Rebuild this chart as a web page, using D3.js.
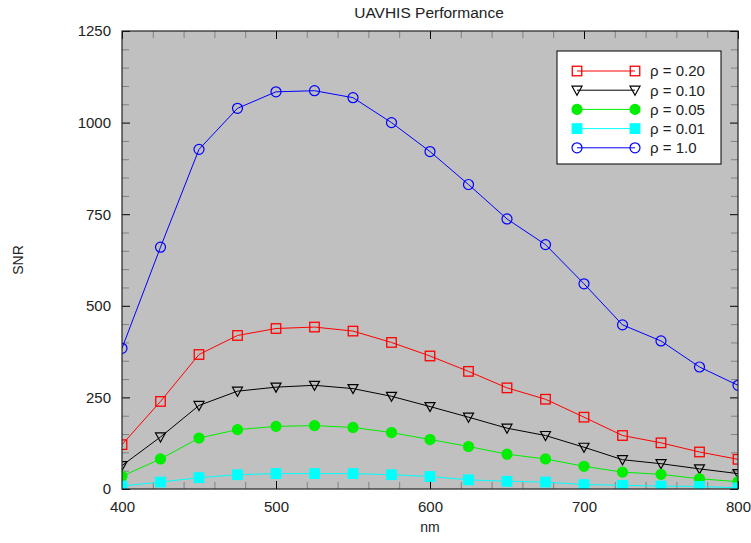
<!DOCTYPE html>
<html>
<head>
<meta charset="utf-8">
<script src="https://cdn.jsdelivr.net/npm/d3@7"></script>
<style>
  body { margin: 0; background: #fff; }
  text { font-family: "Liberation Sans", Arial, sans-serif; fill: #222; }
</style>
</head>
<body>
<div id="chart"></div>
<script>
// wavelengths (nm) and SNR readings per reflectance
const wavelengths = [400, 425, 450, 475, 500, 525, 550, 575, 600, 625, 650, 675, 700, 725, 750, 775, 800];
const snr020 = [121, 239, 367, 419, 438, 442, 431, 400, 363, 321, 276, 245, 196, 146, 126, 101, 81];
const snr010 = [64, 142, 228, 267, 278, 283, 274, 253, 225, 196, 166, 146, 114, 80, 69, 55, 42];
const snr005 = [35, 82, 139, 162, 171, 173, 168, 154, 135, 116, 95, 82, 62, 46, 40, 28, 20];
const snr001 = [8, 19, 31, 39, 42, 42, 42, 39, 34, 25, 21, 19, 12, 10, 8, 7, 3];
const snr100 = [384, 660, 927, 1039, 1084, 1087, 1068, 1000, 921, 831, 737, 667, 560, 448, 404, 333, 283];

const seriesNames = ["ρ = 0.20", "ρ = 0.10", "ρ = 0.05", "ρ = 0.01", "ρ = 1.0"];
const xTicks = [400, 500, 600, 700, 800];
const yTicks = [0, 250, 500, 750, 1000, 1250];

const series = [
  {name: seriesNames[0], values: snr020, line: "#ff0000", marker: "square", fill: "none"},
  {name: seriesNames[1], values: snr010, line: "#000000", marker: "triangle", fill: "none"},
  {name: seriesNames[2], values: snr005, line: "#00ee00", marker: "circle", fill: "#00ee00"},
  {name: seriesNames[3], values: snr001, line: "#00ffff", marker: "square", fill: "#00ffff"},
  {name: seriesNames[4], values: snr100, line: "#0000ff", marker: "circle", fill: "none"}
];

const W = 751, H = 543;
const margin = {top: 31, right: 13, bottom: 54, left: 122};
const width = W - margin.left - margin.right,
      height = H - margin.top - margin.bottom;

const svg = d3.select("#chart").append("svg")
  .attr("width", W).attr("height", H);

const g = svg.append("g").attr("transform", `translate(${margin.left},${margin.top})`);

const x = d3.scaleLinear().domain([400, 800]).range([0, width]);
const y = d3.scaleLinear().domain([0, 1250]).range([height, 0]);

g.append("rect").attr("width", width).attr("height", height).attr("fill", "#c0c0c0");

// minor ticks (inward, grey)
const minorX = d3.range(400, 801, 20).filter(v => v % 100 !== 0);
const minorY = d3.range(0, 1251, 50).filter(v => v % 250 !== 0);
function minor(axis) { return axis.tickSizeInner(-7).tickSizeOuter(0).tickFormat(""); }
g.append("g").attr("transform", `translate(0,${height})`).call(minor(d3.axisBottom(x).tickValues(minorX)));
g.append("g").call(minor(d3.axisTop(x).tickValues(minorX)));
g.append("g").call(minor(d3.axisLeft(y).tickValues(minorY)));
g.append("g").attr("transform", `translate(${width},0)`).call(minor(d3.axisRight(y).tickValues(minorY)));
g.selectAll(".tick line").attr("stroke", "#808080");
g.selectAll(".domain").remove();

// major ticks
const major = [];
major.push(g.append("g").attr("transform", `translate(0,${height})`)
  .call(d3.axisBottom(x).tickValues(xTicks).tickFormat(d3.format("d"))
    .tickSizeInner(-8).tickSizeOuter(0).tickPadding(12)));
major.push(g.append("g").call(d3.axisLeft(y).tickValues(yTicks).tickFormat(d3.format("d"))
    .tickSizeInner(-8).tickSizeOuter(0).tickPadding(11)));
major.push(g.append("g").call(d3.axisTop(x).tickValues(xTicks).tickSizeInner(-8).tickSizeOuter(0).tickFormat("")));
major.push(g.append("g").attr("transform", `translate(${width},0)`)
  .call(d3.axisRight(y).tickValues(yTicks).tickSizeInner(-8).tickSizeOuter(0).tickFormat("")));
major.forEach(a => {
  a.select(".domain").remove();
  a.selectAll(".tick line").attr("stroke", "#000");
  a.selectAll("text").attr("font-size", 15).attr("fill", "#222");
});

// clipped data area
svg.append("defs").append("clipPath").attr("id", "clip")
  .append("rect").attr("width", width).attr("height", height);
const plot = g.append("g").attr("clip-path", "url(#clip)");

const line = d3.line().x((d, i) => x(wavelengths[i])).y(d => y(d));

function drawMarker(sel, s) {
  if (s.marker === "square") {
    sel.append("rect").attr("x", -4.75).attr("y", -4.75).attr("width", 9.5).attr("height", 9.5)
      .attr("fill", s.fill).attr("stroke", s.line).attr("stroke-width", 1.3);
  } else if (s.marker === "circle") {
    sel.append("circle").attr("r", 5)
      .attr("fill", s.fill).attr("stroke", s.line).attr("stroke-width", 1.2);
  } else {
    sel.append("path").attr("d", "M-5,-4L5,-4L0,5Z")
      .attr("fill", "none").attr("stroke", s.line).attr("stroke-width", 1.2);
  }
}

series.forEach(s => {
  plot.append("path").datum(s.values).attr("d", line)
    .attr("fill", "none").attr("stroke", s.line).attr("stroke-width", 1);
  plot.append("g").selectAll("g").data(s.values).enter().append("g")
    .attr("transform", (d, i) => `translate(${x(wavelengths[i])},${y(d)})`)
    .each(function() { drawMarker(d3.select(this), s); });
});

// frame
g.append("rect").attr("width", width).attr("height", height)
  .attr("fill", "none").attr("stroke", "#222").attr("stroke-width", 1.2);

// legend
const leg = svg.append("g").attr("transform", "translate(557,51)");
leg.append("rect").attr("width", 164).attr("height", 113)
  .attr("fill", "#fff").attr("stroke", "#000").attr("stroke-width", 1);
series.forEach((s, i) => {
  const row = leg.append("g").attr("transform", `translate(0,${20 + i * 19.2})`);
  row.append("line").attr("x1", 20).attr("x2", 78).attr("stroke", s.line).attr("stroke-width", 1);
  [20, 78].forEach(cx => drawMarker(row.append("g").attr("transform", `translate(${cx},0)`), s));
  row.append("text").attr("x", 93).attr("dy", "0.36em").attr("font-size", 15).text(s.name);
});

// titles
svg.append("text").attr("x", 429).attr("y", 18).attr("text-anchor", "middle")
  .attr("font-size", 15.5).text("UAVHIS Performance");
svg.append("text").attr("x", 430).attr("y", 532).attr("text-anchor", "middle")
  .attr("font-size", 14).text("nm");
svg.append("text").attr("transform", "translate(23,260) rotate(-90)").attr("text-anchor", "middle")
  .attr("font-size", 14).text("SNR");
</script>
</body>
</html>
